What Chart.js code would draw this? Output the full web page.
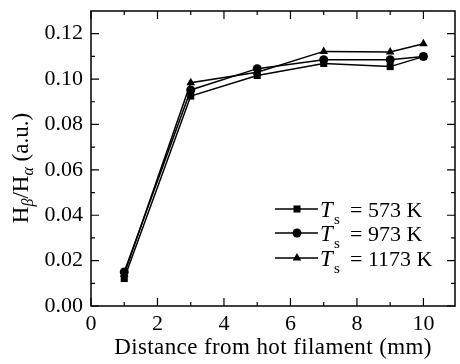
<!DOCTYPE html>
<html>
<head>
<meta charset="utf-8">
<script src="https://cdn.jsdelivr.net/npm/chart.js@4/dist/chart.umd.min.js"></script>
<style>
  html, body { margin: 0; padding: 0; background: #fff; }
  #wrap { width: 460px; height: 364px; }
</style>
</head>
<body>
<div id="wrap"><canvas id="chart"></canvas></div>
<script>
const distance = [1, 3, 5, 7, 9, 10];
const ratio573 = [0.0121, 0.0925, 0.1016, 0.1069, 0.1055, 0.1099];
const ratio973 = [0.0150, 0.0952, 0.1046, 0.1085, 0.1085, 0.1100];
const ratio1173 = [0.0140, 0.0984, 0.1030, 0.1122, 0.1119, 0.1156];
const seriesTemps = ['573 K', '973 K', '1173 K'];
const seriesMarkers = ['rect', 'circle', 'triangle'];

const serif = '"Liberation Serif", "DejaVu Serif", serif';
const ink = '#000';

function toPoints(ys) {
  return distance.map((x, i) => ({x, y: ys[i]}));
}

function makeSet(ys, i) {
  return {
    label: 'Ts = ' + seriesTemps[i],
    data: toPoints(ys),
    borderColor: ink,
    backgroundColor: ink,
    borderWidth: 1.5,
    pointStyle: seriesMarkers[i],
    pointRadius: seriesMarkers[i] === 'circle' ? 4.5 : 5,
    pointBorderWidth: 0,
    tension: 0
  };
}

// frame + inward major/minor ticks on all four sides
const frameTicks = {
  id: 'frameTicks',
  afterDatasetsDraw(chart) {
    const {ctx, chartArea: a, scales: {x, y}} = chart;
    ctx.save();
    ctx.strokeStyle = ink;
    ctx.lineWidth = 1.5;
    ctx.strokeRect(a.left, a.top, a.right - a.left, a.bottom - a.top);
    ctx.lineWidth = 1.2;
    ctx.beginPath();
    for (let v = 0; v <= 11; v++) {
      const px = x.getPixelForValue(v);
      if (px > a.right - 1) break;
      const len = v % 2 === 0 ? 8 : 4;
      ctx.moveTo(px, a.bottom); ctx.lineTo(px, a.bottom - len);
      ctx.moveTo(px, a.top); ctx.lineTo(px, a.top + len);
    }
    for (let k = 0; k <= 13; k++) {
      const py = y.getPixelForValue(k / 100);
      if (py < a.top + 1) break;
      const len = k % 2 === 0 ? 8 : 4;
      ctx.moveTo(a.left, py); ctx.lineTo(a.left + len, py);
      ctx.moveTo(a.right, py); ctx.lineTo(a.right - len, py);
    }
    ctx.stroke();
    ctx.restore();
  }
};

// axis titles with sub-scripts, drawn as text on the canvas
const axisTitles = {
  id: 'axisTitles',
  afterDraw(chart) {
    const {ctx} = chart;
    ctx.save();
    ctx.fillStyle = ink;
    ctx.textBaseline = 'alphabetic';
    ctx.font = '23px ' + serif;
    ctx.textAlign = 'center';
    ctx.letterSpacing = '0.4px';
    ctx.fillText('Distance from hot filament (mm)', 273, 354);
    ctx.letterSpacing = '0px';

    // y title: H_β/H_α (a.u.)
    const parts = [
      {t: 'H', f: '23px ' + serif, dy: 0},
      {t: 'β', f: 'italic 16px ' + serif, dy: 5},
      {t: '/H', f: '23px ' + serif, dy: 0},
      {t: 'α', f: 'italic 16px ' + serif, dy: 5},
      {t: ' (a.u.)', f: '23px ' + serif, dy: 0}
    ];
    let total = 0;
    parts.forEach(p => { ctx.font = p.f; p.w = ctx.measureText(p.t).width; total += p.w; });
    ctx.translate(28, 168);
    ctx.rotate(-Math.PI / 2);
    ctx.textAlign = 'left';
    let cx = -total / 2;
    parts.forEach(p => {
      ctx.font = p.f;
      ctx.fillText(p.t, cx, p.dy);
      cx += p.w;
    });
    ctx.restore();
  }
};

// legend: line + marker, italic T with subscript s
const legendBox = {
  id: 'legendBox',
  afterDraw(chart) {
    const {ctx} = chart;
    const rows = [209, 233, 258];
    ctx.save();
    chart.data.datasets.forEach((ds, i) => {
      const ry = rows[i];
      ctx.strokeStyle = ink;
      ctx.lineWidth = 1.5;
      ctx.beginPath();
      ctx.moveTo(275, ry); ctx.lineTo(318, ry);
      ctx.stroke();
      ctx.fillStyle = ink;
      Chart.helpers.drawPoint(ctx, {pointStyle: ds.pointStyle, radius: ds.pointRadius, borderWidth: 0}, 297, ry);
      ctx.textBaseline = 'alphabetic';
      ctx.textAlign = 'left';
      ctx.font = 'italic 23px ' + serif;
      ctx.fillText('T', 320, ry + 8);
      ctx.font = '15px ' + serif;
      ctx.fillText('s', 334, ry + 15);
      ctx.font = '22px ' + serif;
      ctx.fillText('= ' + seriesTemps[i], 350, ry + 8);
    });
    ctx.restore();
  }
};

const tickFont = {family: serif, size: 22};

new Chart(document.getElementById('chart'), {
  type: 'line',
  data: {
    datasets: [makeSet(ratio573, 0), makeSet(ratio973, 1), makeSet(ratio1173, 2)]
  },
  options: {
    responsive: true,
    maintainAspectRatio: false,
    animation: false,
    devicePixelRatio: 1,
    layout: {padding: {left: 0, right: 1.5, top: 11, bottom: 0}},
    plugins: {legend: {display: false}, tooltip: {enabled: false}},
    scales: {
      x: {
        type: 'linear',
        min: 0,
        max: 10.95,
        grid: {display: false, drawTicks: false},
        border: {display: false},
        ticks: {stepSize: 2, includeBounds: false, color: ink, font: tickFont, padding: 5, maxRotation: 0},
        afterFit(s) { s.height = 58; s.paddingLeft = 0; s.paddingRight = 0; }
      },
      y: {
        min: 0,
        max: 0.13,
        grid: {display: false, drawTicks: false},
        border: {display: false},
        ticks: {
          stepSize: 0.02,
          includeBounds: false,
          color: ink,
          font: tickFont,
          padding: 8,
          callback: v => v.toFixed(2)
        },
        afterFit(s) { s.width = 91; s.paddingTop = 0; s.paddingBottom = 0; }
      }
    }
  },
  plugins: [frameTicks, axisTitles, legendBox]
});
</script>
</body>
</html>
